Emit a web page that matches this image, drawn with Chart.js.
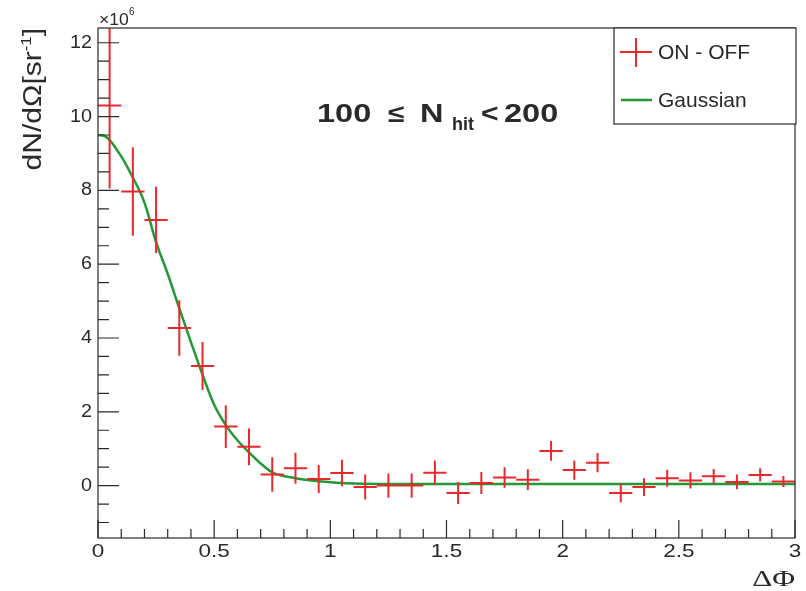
<!DOCTYPE html>
<html>
<head>
<meta charset="utf-8">
<script src="https://cdn.jsdelivr.net/npm/chart.js@4.4.1/dist/chart.umd.min.js"></script>
<style>
  html, body { margin: 0; padding: 0; background: #fff; }
  #c { display: block; }
</style>
</head>
<body>
<canvas id="c" width="806" height="591"></canvas>
<script>
// ON - OFF excess per 0.1 bin of delta phi (units of 1e6 sr^-1)
const binCenters = [0.05, 0.15, 0.25, 0.35, 0.45, 0.55, 0.65, 0.75, 0.85, 0.95,
                    1.05, 1.15, 1.25, 1.35, 1.45, 1.55, 1.65, 1.75, 1.85, 1.95,
                    2.05, 2.15, 2.25, 2.35, 2.45, 2.55, 2.65, 2.75, 2.85, 2.95];
const onOff = [10.3, 7.97, 7.2, 4.27, 3.24, 1.6, 1.05, 0.3, 0.47, 0.18,
               0.34, -0.04, 0.0, 0.0, 0.35, -0.2, 0.07, 0.22, 0.16, 0.94,
               0.42, 0.62, -0.2, -0.04, 0.2, 0.14, 0.25, 0.1, 0.29, 0.11];
const onOffErr = [2.25, 1.2, 0.9, 0.75, 0.65, 0.58, 0.5, 0.47, 0.42, 0.38,
                  0.36, 0.34, 0.33, 0.33, 0.33, 0.3, 0.3, 0.28, 0.28, 0.27,
                  0.26, 0.26, 0.25, 0.24, 0.23, 0.22, 0.2, 0.2, 0.18, 0.15];
const binHalfWidth = 0.05;

// fitted gaussian curve
const fitX = [0, 0.035, 0.1, 0.143, 0.2, 0.25, 0.3, 0.35, 0.4, 0.45, 0.5, 0.55, 0.6,
              0.65, 0.7, 0.75, 0.85, 0.95, 1.1, 1.5, 2.0, 2.5, 3.0];
const fitY = [9.5, 9.45, 8.92, 8.43, 7.67, 6.6, 5.74, 4.8, 3.89, 3.0, 2.19, 1.64, 1.23,
              0.9, 0.6, 0.36, 0.2, 0.12, 0.06, 0.04, 0.04, 0.04, 0.04];

const xTickValues = [0, 0.5, 1, 1.5, 2, 2.5, 3];
const xTickLabels = ['0', '0.5', '1', '1.5', '2', '2.5', '3'];
const yTickValues = [0, 2, 4, 6, 8, 10, 12];
const yTickLabels = ['0', '2', '4', '6', '8', '10', '12'];

const RED = 'rgb(234, 40, 44)';
const GREEN = 'rgb(36, 152, 54)';
const INK = '#2a2a2a';
const FONT = '"Liberation Sans", Arial, Helvetica, sans-serif';
const SERIF = '"Liberation Serif", "Times New Roman", serif';

// error crosses as line segments separated by gaps
let crossPoints = [];
for (let i = 0; i < binCenters.length; i++) {
    const c = binCenters[i], v = onOff[i], e = onOffErr[i];
    crossPoints.push({x: c - binHalfWidth, y: v});
    crossPoints.push({x: c + binHalfWidth, y: v});
    crossPoints.push({x: c, y: null});
    crossPoints.push({x: c, y: v - e});
    crossPoints.push({x: c, y: v + e});
    crossPoints.push({x: c, y: null});
}

let fitPoints = [];
for (let i = 0; i < fitX.length; i++) {
    fitPoints.push({x: fitX[i], y: fitY[i]});
}

// text drawn wider than the font's natural width
function wideText(ctx, str, x, y, sx) {
    ctx.save();
    ctx.translate(x, y);
    ctx.scale(sx, 1);
    ctx.fillText(str, 0, 0);
    ctx.restore();
}

const rootFrame = {
    id: 'rootFrame',
    afterDraw(chart) {
        const ctx = chart.ctx;
        const a = chart.chartArea;
        const xs = chart.scales.x;
        const ys = chart.scales.y;
        ctx.save();
        ctx.strokeStyle = INK;
        ctx.lineWidth = 1.2;

        // frame
        ctx.strokeRect(a.left, a.top, a.right - a.left, a.bottom - a.top);

        // y ticks, inside the frame
        ctx.beginPath();
        for (let k = -4; k <= 26; k++) {
            const py = ys.getPixelForValue(k * 0.5);
            if (py < a.top || py > a.bottom) continue;
            const len = (k % 4 === 0) ? 21 : 11;
            ctx.moveTo(a.left, py);
            ctx.lineTo(a.left + len, py);
        }
        // x ticks
        for (let k = 0; k <= 30; k++) {
            const px = xs.getPixelForValue(k * 0.1);
            const len = (k % 5 === 0) ? 18 : 9;
            ctx.moveTo(px, a.bottom);
            ctx.lineTo(px, a.bottom - len);
        }
        ctx.stroke();

        // tick labels
        ctx.fillStyle = INK;
        ctx.font = '18px ' + FONT;
        ctx.textAlign = 'right';
        ctx.textBaseline = 'middle';
        for (let i = 0; i < yTickValues.length; i++) {
            wideText(ctx, yTickLabels[i], a.left - 6, ys.getPixelForValue(yTickValues[i]), 1.1);
        }
        ctx.textAlign = 'center';
        for (let i = 0; i < xTickValues.length; i++) {
            wideText(ctx, xTickLabels[i], xs.getPixelForValue(xTickValues[i]), a.bottom + 14, 1.25);
        }

        // exponent
        ctx.textAlign = 'left';
        ctx.textBaseline = 'alphabetic';
        ctx.font = '16px ' + FONT;
        wideText(ctx, '\u00d710', a.left + 1, 25, 1.1);
        ctx.font = '10px ' + FONT;
        ctx.fillText('6', a.left + 31, 15);

        // x axis title
        ctx.font = '24px ' + SERIF;
        ctx.textAlign = 'right';
        wideText(ctx, '\u0394\u03a6', a.right, 586, 1.3);

        // y axis title, flush with the top of the frame
        ctx.save();
        ctx.translate(41, a.top);
        ctx.rotate(-Math.PI / 2);
        ctx.scale(1.2, 1);
        ctx.textAlign = 'right';
        ctx.font = '25px ' + FONT;
        const tailW = ctx.measureText(']').width;
        ctx.fillText(']', 0, 0);
        ctx.font = '14px ' + FONT;
        const supW = ctx.measureText('-1').width;
        ctx.fillText('-1', -tailW, -10);
        ctx.font = '25px ' + FONT;
        ctx.fillText('dN/d\u03a9[sr', -tailW - supW, 0);
        ctx.restore();

        // bin range label
        ctx.textAlign = 'left';
        ctx.font = 'bold 25px ' + FONT;
        const ty = 122;
        wideText(ctx, '100', 317, ty, 1.3);
        wideText(ctx, '\u2264', 388, ty, 1.2);
        wideText(ctx, 'N', 420, ty, 1.3);
        wideText(ctx, '<', 481, ty, 1.2);
        wideText(ctx, '200', 504, ty, 1.3);
        ctx.font = 'bold 18px ' + FONT;
        ctx.fillText('hit', 452, ty + 8);

        // legend box
        ctx.fillStyle = '#fff';
        ctx.fillRect(614, 28, 182, 96);
        ctx.strokeRect(614, 28, 182, 96);
        ctx.strokeStyle = RED;
        ctx.lineWidth = 2;
        ctx.beginPath();
        ctx.moveTo(620, 52); ctx.lineTo(652, 52);
        ctx.moveTo(636, 38); ctx.lineTo(636, 67);
        ctx.stroke();
        ctx.strokeStyle = GREEN;
        ctx.lineWidth = 2.5;
        ctx.beginPath();
        ctx.moveTo(621, 100); ctx.lineTo(652, 100);
        ctx.stroke();
        ctx.fillStyle = INK;
        ctx.font = '21px ' + FONT;
        ctx.textBaseline = 'middle';
        ctx.fillText('ON - OFF', 658, 53);
        ctx.fillText('Gaussian', 658, 101);
        ctx.restore();
    }
};

new Chart(document.getElementById('c'), {
    type: 'scatter',
    data: {
        datasets: [{
            label: 'Gaussian',
            data: fitPoints,
            showLine: true,
            borderColor: GREEN,
            borderWidth: 2.5,
            pointRadius: 0,
            cubicInterpolationMode: 'monotone',
            order: 2
        }, {
            label: 'ON - OFF',
            data: crossPoints,
            showLine: true,
            spanGaps: false,
            borderColor: RED,
            borderWidth: 2,
            pointRadius: 0,
            order: 1
        }]
    },
    options: {
        responsive: false,
        animation: false,
        layout: { padding: { left: 98, right: 11, top: 28, bottom: 53 } },
        plugins: { legend: { display: false }, tooltip: { enabled: false } },
        scales: {
            x: { type: 'linear', min: 0, max: 3, display: false },
            y: { type: 'linear', min: -1.42, max: 12.4, display: false }
        }
    },
    plugins: [rootFrame]
});
</script>
</body>
</html>
